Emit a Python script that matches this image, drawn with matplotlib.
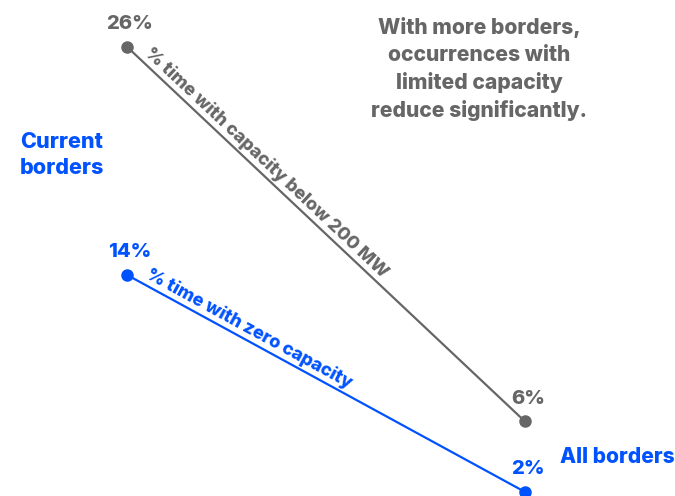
import numpy as np
import matplotlib
matplotlib.use("Agg")
from matplotlib import pyplot as plt

# slope chart data (approximate unrounded values)
positions = [0, 1]
end_labels = ["Current\nborders", "All borders"]
below_200mw = [26.4, 6.2]
zero_capacity = [14.1, 2.4]
series_names = ["% time with capacity below 200 MW", "% time with zero capacity"]
note = "With more borders,\noccurrences with\nlimited capacity\nreduce significantly."

GRAY = "#666666"
BLUE = "#0052FF"
WEIGHT = 800

plt.rcParams["font.family"] = ["Inter", "DejaVu Sans"]
plt.rcParams["font.weight"] = WEIGHT

fig = plt.figure(figsize=(6.75, 4.96), dpi=100)
ax = fig.add_axes([0, 0, 1, 1])
ax.set_xlim(-0.319, 1.377)
ax.set_ylim(2.18, 28.92)
ax.axis("off")


def draw_series(vals, color, name, start):
    ax.plot(positions, vals, color=color, lw=1.6, marker="o", ms=8,
            clip_on=False, zorder=3)
    for x, v in zip(positions, vals):
        ax.annotate("%.0f%%" % v, (x, v), xytext=(2, 10), textcoords="offset points",
                    ha="center", va="bottom", color=color, fontsize=14.5, fontweight=WEIGHT)
    # label running along the line
    p0 = ax.transData.transform((positions[0], vals[0]))
    p1 = ax.transData.transform((positions[1], vals[1]))
    ang = np.degrees(np.arctan2(p1[1] - p0[1], p1[0] - p0[0]))
    y0 = vals[0] + (vals[1] - vals[0]) * start
    ax.annotate(name, (start, y0), xytext=(0, 2), textcoords="offset points",
                rotation=ang, rotation_mode="anchor", ha="left", va="bottom",
                color=color, fontsize=13.1, fontweight=WEIGHT)


fig.canvas.draw()
draw_series(below_200mw, GRAY, series_names[0], 0.035)
draw_series(zero_capacity, BLUE, series_names[1], 0.04)

ax.text(-0.269, 20.56, end_labels[0], ha="left", va="center", color=BLUE,
        fontsize=15.5, fontweight=WEIGHT, linespacing=1.4)
ax.text(1.088, 4.28, end_labels[1], ha="left", va="center", color=BLUE,
        fontsize=15.1, fontweight=WEIGHT)
ax.text(0.885, 25.2, note, ha="center", va="center", color=GRAY,
        fontsize=15.2, fontweight=WEIGHT, linespacing=1.41)

fig.savefig("out.png", dpi=100)
